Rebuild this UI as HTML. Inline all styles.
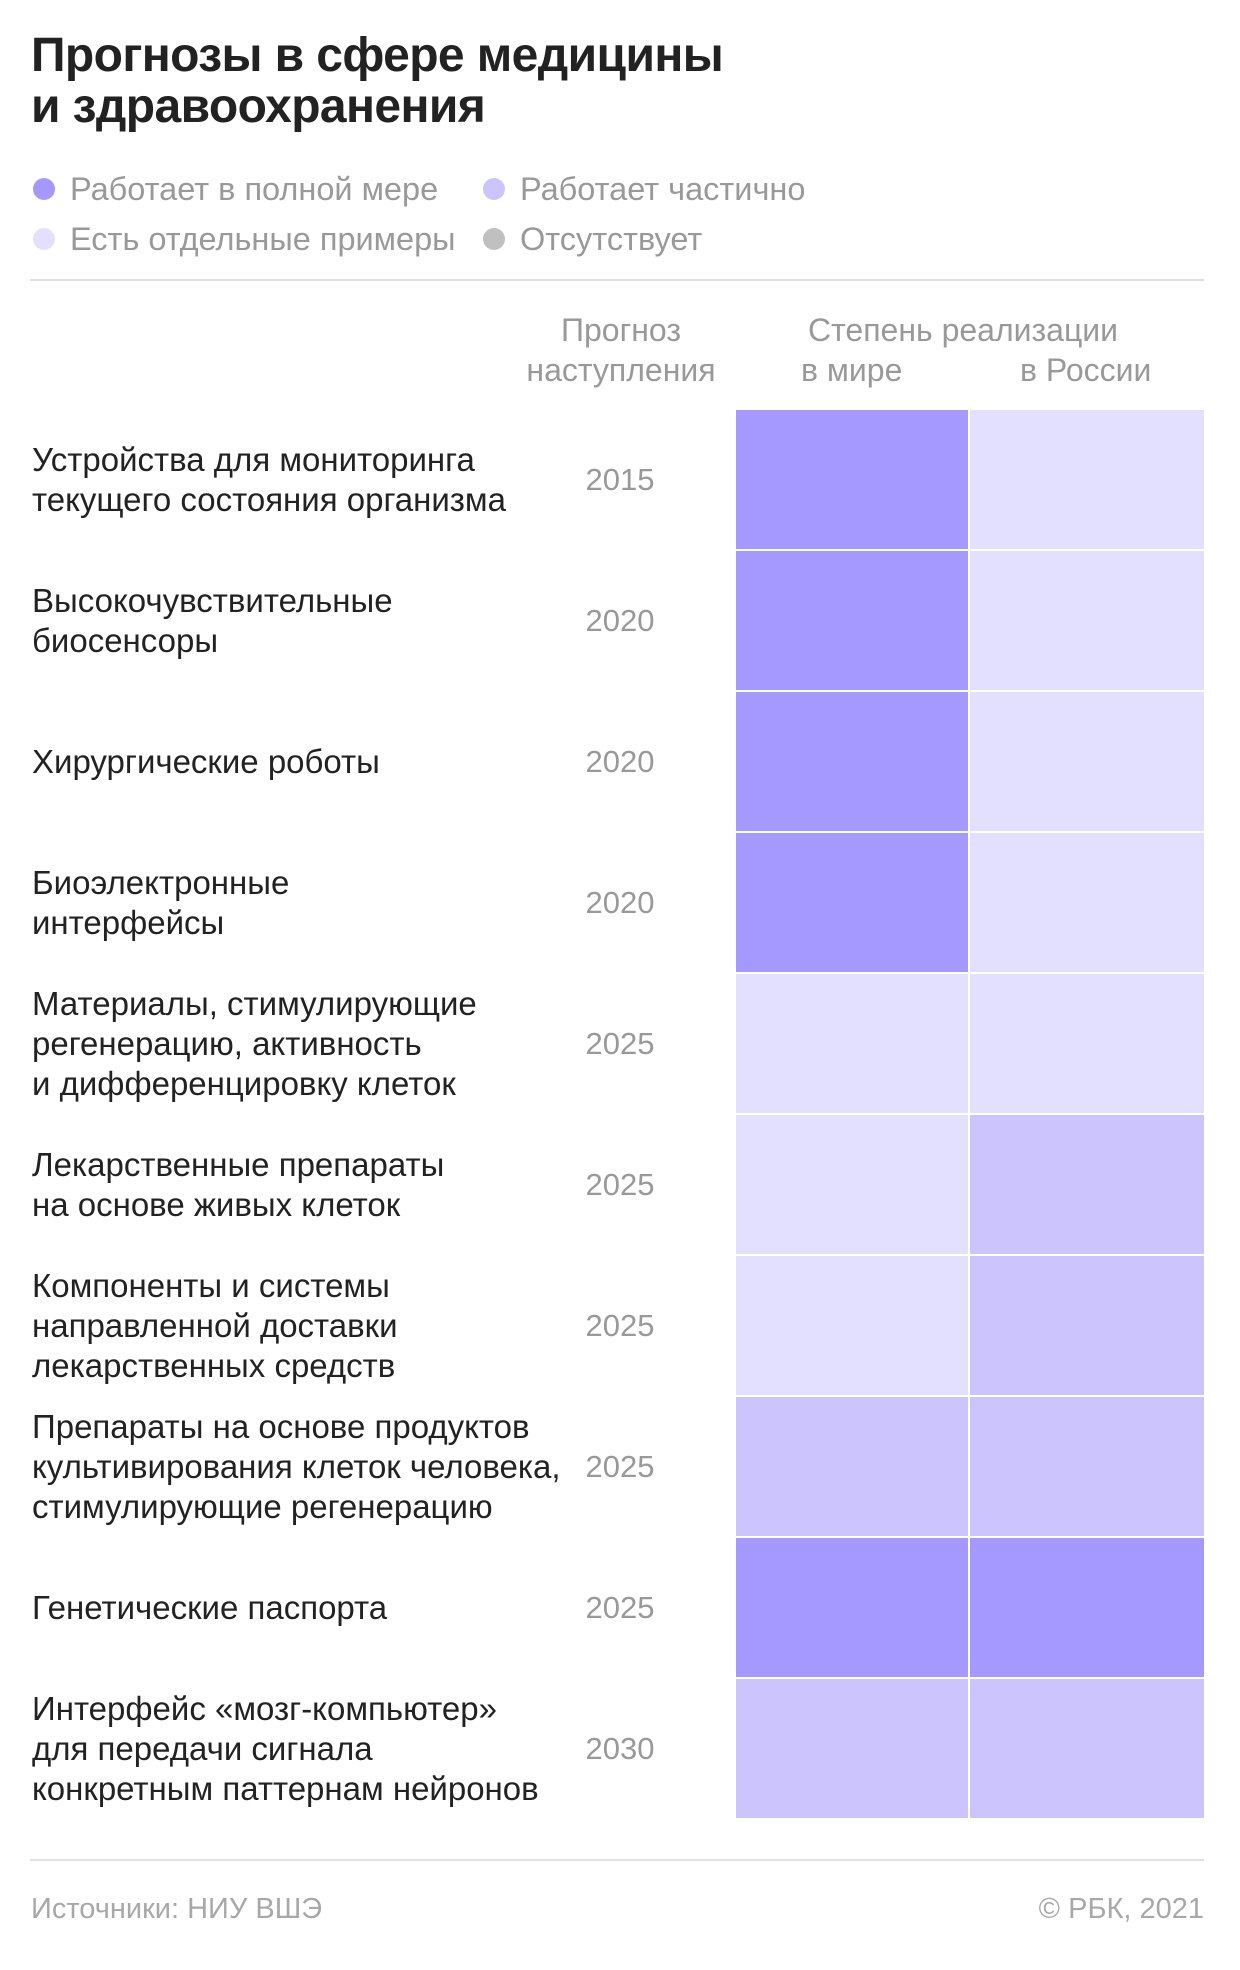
<!DOCTYPE html>
<html><head><meta charset="utf-8"><style>
*{margin:0;padding:0;box-sizing:border-box}
body{width:1240px;height:1970px;background:#fff;font-family:"Liberation Sans","Noto Sans CJK SC",sans-serif;position:relative;overflow:hidden;color:#222}
.a{position:absolute;white-space:nowrap}
h1{position:absolute;left:31px;top:30px;font-size:48px;line-height:51px;font-weight:bold;color:#222;letter-spacing:-0.6px}
.lg{font-size:32.5px;color:#999}
.dot{position:absolute;width:22px;height:22px;border-radius:50%}
.hr{position:absolute;left:30px;width:1174px;height:2px;background:#e0e0e0}
.hd{font-size:32px;color:#999;line-height:40px}
.cell{position:absolute}
.lab{font-size:33px;line-height:40px;color:#222}
.yr{font-size:31px;color:#999;width:120px;text-align:center}
.ft{font-size:29px;color:#a8a8a8}
</style></head><body>
<h1>Прогнозы в сфере медицины<br>и здравоохранения</h1>
<div class="dot" style="left:33px;top:178px;background:#a598ff"></div>
<div class="a lg" style="left:70px;top:171px">Работает в полной мере</div>
<div class="dot" style="left:483px;top:178px;background:#cbc4fd"></div>
<div class="a lg" style="left:520px;top:171px">Работает частично</div>
<div class="dot" style="left:33px;top:228px;background:#e2e0fe"></div>
<div class="a lg" style="left:70px;top:221px">Есть отдельные примеры</div>
<div class="dot" style="left:483px;top:228px;background:#c0c0c0"></div>
<div class="a lg" style="left:520px;top:221px">Отсутствует</div>
<div class="hr" style="top:279px"></div>
<div class="a hd" style="left:521px;top:310px;width:200px;text-align:center">Прогноз<br>наступления</div>
<div class="a hd" style="left:808px;top:310px">Степень реализации</div>
<div class="a hd" style="left:801px;top:350px">в мире</div>
<div class="a hd" style="left:1020px;top:350px">в России</div>
<div id="g"></div>
<div class="hr" style="top:1859px"></div>
<div class="a ft" style="left:31px;top:1893px">Источники: НИУ ВШЭ</div>
<div class="a ft" style="right:36px;top:1893px">© РБК, 2021</div>
<script>
var D='#a598ff',M='#cbc4fd',L='#e2e0fe';
var rows=[
["Устройства для мониторинга<br>текущего состояния организма","2015",D,L],
["Высокочувствительные<br>биосенсоры","2020",D,L],
["Хирургические роботы","2020",D,L],
["Биоэлектронные<br>интерфейсы","2020",D,L],
["Материалы, стимулирующие<br>регенерацию, активность<br>и дифференцировку клеток","2025",L,L],
["Лекарственные препараты<br>на основе живых клеток","2025",L,M],
["Компоненты и системы<br>направленной доставки<br>лекарственных средств","2025",L,M],
["Препараты на основе продуктов<br>культивирования клеток человека,<br>стимулирующие регенерацию","2025",M,M],
["Генетические паспорта","2025",D,D],
["Интерфейс «мозг-компьютер»<br>для передачи сигнала<br>конкретным паттернам нейронов","2030",M,M]];
var h='';
rows.forEach(function(r,i){
var t=410+i*141,c=t+70;
var n=r[0].split('<br>').length;
h+='<div class="a lab" style="left:32px;top:'+(c-n*20)+'px">'+r[0]+'</div>';
h+='<div class="a yr" style="left:560px;top:'+(c-18)+'px">'+r[1]+'</div>';
h+='<div class="cell" style="left:736px;top:'+t+'px;width:232px;height:139px;background:'+r[2]+'"></div>';
h+='<div class="cell" style="left:970px;top:'+t+'px;width:234px;height:139px;background:'+r[3]+'"></div>';
});
document.getElementById('g').innerHTML=h;
</script>
</body></html>
